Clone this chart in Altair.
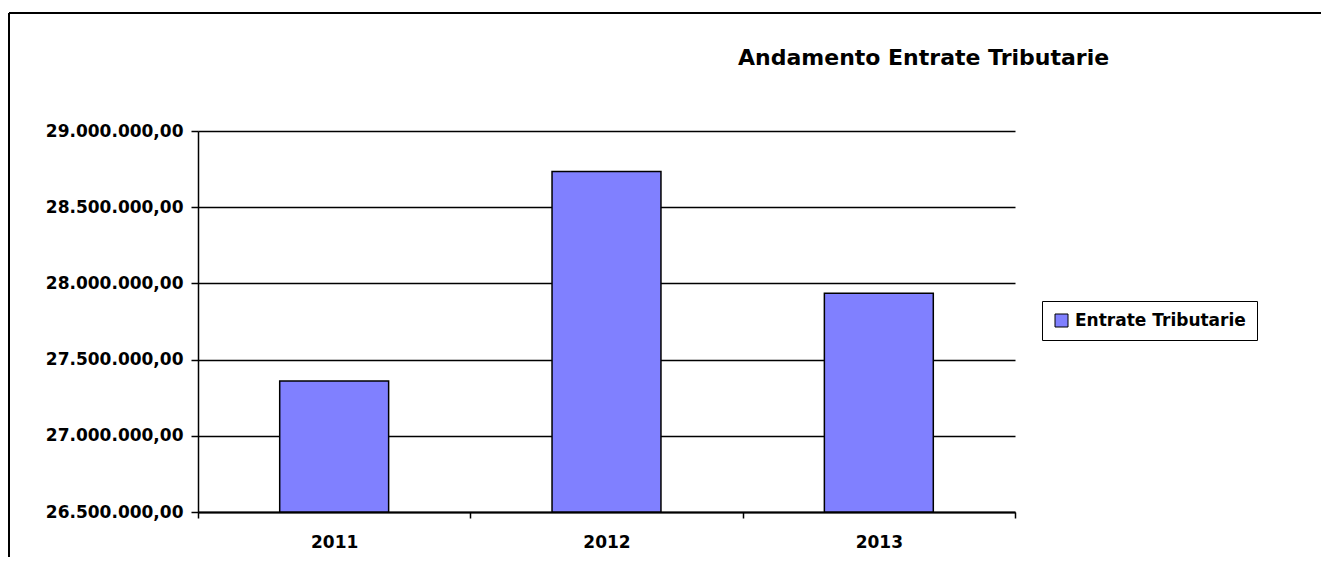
import altair as alt
import pandas as pd

years = ["2011", "2012", "2013"]
values = [27360000, 28735000, 27935000]
series_name = "Entrate Tributarie"
y_ticks = [26500000, 27000000, 27500000, 28000000, 28500000, 29000000]
title_text = "Andamento Entrate Tributarie"

df = pd.DataFrame({"anno": years, "valore": values, "serie": [series_name] * len(years)})
frame_df = pd.DataFrame({"k": [0]})

FONT = "DejaVu Sans"
BAR = "#8080FF"

bars = alt.Chart(df).mark_bar(
    stroke="black", strokeWidth=1.5, width=alt.RelativeBandSize(0.4)
).encode(
    x=alt.X(
        "anno:N",
        title=None,
        scale=alt.Scale(paddingInner=0, paddingOuter=0),
        axis=alt.Axis(
            labelAngle=0, tickBand="extent", tickSize=6, tickColor="black", tickWidth=1.5,
            domainColor="black", domainWidth=2, labelPadding=16, grid=False,
            labelFont=FONT, labelFontSize=17, labelFontWeight="bold", labelColor="black",
        ),
    ),
    y=alt.Y(
        "valore:Q",
        title=None,
        scale=alt.Scale(domain=[y_ticks[0], y_ticks[-1]], nice=False, zero=False),
        axis=alt.Axis(
            values=y_ticks, format=",.2f", tickSize=7, tickColor="black", tickWidth=1.5,
            domainColor="black", domainWidth=1.5, labelPadding=8,
            grid=True, gridColor="black", gridWidth=1.5,
            labelFont=FONT, labelFontSize=17, labelFontWeight="bold", labelColor="black",
        ),
    ),
    y2=alt.Y2(datum=y_ticks[0]),
    color=alt.Color(
        "serie:N",
        scale=alt.Scale(range=[BAR]),
        legend=alt.Legend(
            title=None, orient="none", legendX=844, legendY=170,
            strokeColor="black", fillColor="white", padding=11,
            symbolType="square", symbolSize=169, symbolStrokeColor="black", symbolStrokeWidth=1,
            symbolOpacity=1, labelFont=FONT, labelFontSize=17, labelFontWeight="bold",
            labelColor="black", labelOffset=5, labelLimit=400,
        ),
    ),
)

frame_top = alt.Chart(frame_df).mark_rule(color="black", strokeWidth=2).encode(
    x=alt.value(-189), x2=alt.value(1123), y=alt.value(-118)
)
frame_left = alt.Chart(frame_df).mark_rule(color="black", strokeWidth=2).encode(
    x=alt.value(-189), y=alt.value(-118), y2=alt.value(426)
)

chart = alt.layer(bars, frame_top, frame_left).properties(
    width=817,
    height=381,
    autosize="none",
    padding={"left": 190, "top": 123, "right": 306, "bottom": 45},
    title=alt.TitleParams(
        title_text, anchor="start", dx=540, dy=75, offset=0, frame="group",
        baseline="alphabetic",
        font=FONT, fontSize=22, fontWeight="bold", color="black",
    ),
).configure(
    locale={"number": {"decimal": ",", "thousands": ".", "grouping": [3], "currency": ["", " €"]}},
    view=alt.ViewConfig(stroke="transparent"),
)

chart.save("out.html", embed_options={"renderer": "svg", "actions": False})
